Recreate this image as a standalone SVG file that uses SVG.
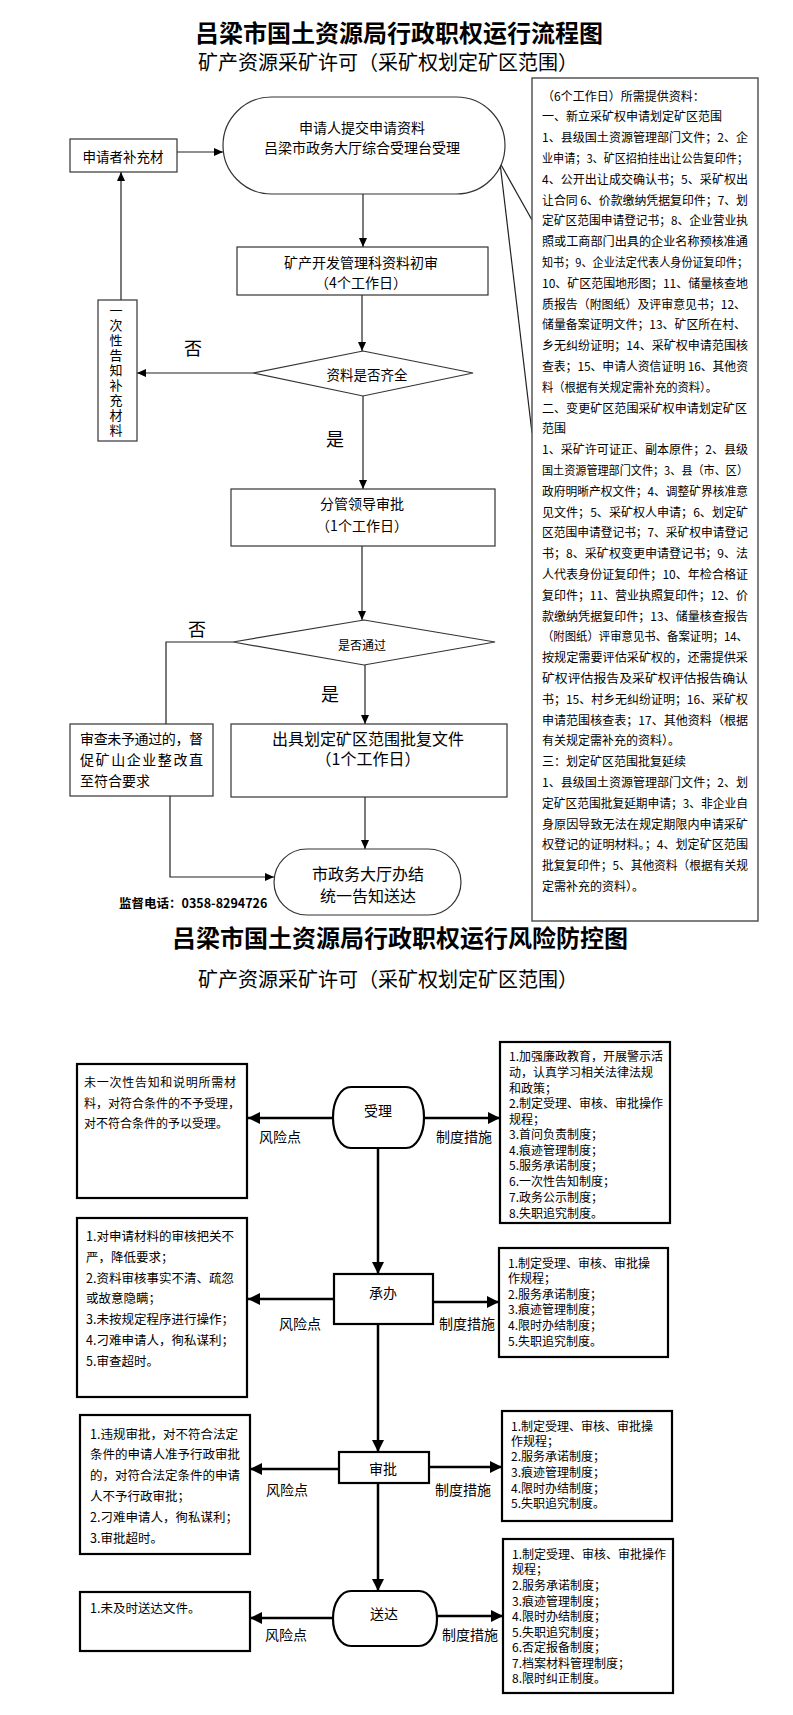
<svg xmlns="http://www.w3.org/2000/svg" width="793" height="1715" viewBox="0 0 793 1715">
<style>
text{font-family:"Noto Sans CJK SC","Noto Sans",sans-serif;fill:#000}
.t1{font-size:24px;font-weight:bold;text-anchor:middle}
.t2{font-size:20px;text-anchor:middle}
.n{fill:#fff;stroke:#333;stroke-width:1.2}
.c{font-size:14px;text-anchor:middle;dominant-baseline:central}
.v{font-size:13px;writing-mode:vertical-rl;letter-spacing:2px}
.big{font-size:18px;text-anchor:middle;dominant-baseline:central}
.l1{fill:none;stroke:#222;stroke-width:1.2}
.rb{font-size:12px;dominant-baseline:central}
.b2{fill:#fff;stroke:#000;stroke-width:2.2}
.l2{fill:none;stroke:#000;stroke-width:2.5}
.s2{font-size:12.5px;dominant-baseline:central}
.r2{font-size:12px;dominant-baseline:central}
.lab{font-size:14px;text-anchor:middle;dominant-baseline:central}
</style>
<defs>
<marker id="a1" markerUnits="userSpaceOnUse" markerWidth="9" markerHeight="8" refX="9" refY="4" orient="auto"><path d="M0,0L9,4L0,8z" fill="#000"/></marker>
<marker id="a2" markerUnits="userSpaceOnUse" markerWidth="12" markerHeight="12" refX="12" refY="6" orient="auto"><path d="M0,0L12,6L0,12z" fill="#000"/></marker>
</defs>
<rect width="793" height="1715" fill="#fff"/>

<text class="t1" x="399" y="42">吕梁市国土资源局行政职权运行流程图</text>
<text class="t2" x="388" y="70">矿产资源采矿许可（采矿权划定矿区范围）</text>

<g id="connectors1">
<line class="l1" x1="177" y1="152" x2="223" y2="152" marker-end="url(#a1)"/>
<line class="l1" x1="363" y1="194" x2="363" y2="247" marker-end="url(#a1)"/>
<line class="l1" x1="362" y1="295" x2="362" y2="351" marker-end="url(#a1)"/>
<line class="l1" x1="253" y1="373" x2="137" y2="373" marker-end="url(#a1)"/>
<line class="l1" x1="121" y1="300" x2="121" y2="172" marker-end="url(#a1)"/>
<line class="l1" x1="363" y1="396" x2="363" y2="489" marker-end="url(#a1)"/>
<line class="l1" x1="362" y1="546" x2="362" y2="620" marker-end="url(#a1)"/>
<polyline class="l1" points="233,642 166,642 166,724"/>
<line class="l1" x1="365" y1="665" x2="365" y2="724" marker-end="url(#a1)"/>
<line class="l1" x1="365" y1="797" x2="365" y2="849" marker-end="url(#a1)"/>
<polyline class="l1" points="170,796 170,877 274,877" marker-end="url(#a1)"/>
<line class="l1" x1="500" y1="163" x2="532" y2="220"/>
<line class="l1" x1="500" y1="163" x2="532" y2="433"/>
</g>

<g id="supplement"><rect class="n" x="70" y="139" width="107" height="33"/><text class="c" x="123" y="156" style="font-size:13.5px">申请者补充材</text></g>
<g id="submit"><rect class="n" x="223" y="97" width="282" height="97" rx="48.5"/><text class="c" x="362" y="127">申请人提交申请资料</text><text class="c" x="362" y="147">吕梁市政务大厅综合受理台受理</text></g>
<g id="review"><rect class="n" x="237" y="247" width="251" height="48"/><text class="c" x="361" y="262">矿产开发管理科资料初审</text><text class="c" x="361" y="282">（4个工作日）</text></g>
<g id="complete"><polygon class="n" points="363,351 473,373 363,396 253,373"/><text class="c" x="367" y="374" style="font-size:13.5px">资料是否齐全</text></g>
<text class="big" x="193" y="347">否</text>
<text class="big" x="335" y="438">是</text>
<g id="notify"><rect class="n" x="98" y="300" width="39" height="141"/>
<text class="v" x="116" y="304">一次性告知补充材料</text></g>
<g id="leader"><rect class="n" x="231" y="489" width="264" height="57"/><text class="c" x="362" y="503">分管领导审批</text><text class="c" x="362" y="525">（1个工作日）</text></g>
<g id="pass"><polygon class="n" points="364,620 495,642 364,665 233,642"/><text class="c" x="362" y="644" style="font-size:12px">是否通过</text></g>
<text class="big" x="197" y="628">否</text>
<text class="big" x="330" y="693">是</text>
<g id="reject"><rect class="n" x="70" y="724" width="143" height="72"/>
<text class="c" x="80" y="738" style="text-anchor:start" textLength="123" lengthAdjust="spacing">审查未予通过的，督</text>
<text class="c" x="80" y="759" style="text-anchor:start" textLength="123" lengthAdjust="spacing">促矿山企业整改直</text>
<text class="c" x="80" y="780" style="text-anchor:start">至符合要求</text></g>
<g id="issue"><rect class="n" x="231" y="724" width="276" height="73"/><text class="c" x="368" y="738" style="font-size:16px">出具划定矿区范围批复文件</text><text class="c" x="368" y="758" style="font-size:16px">（1个工作日）</text></g>
<g id="finish"><rect class="n" x="274" y="849" width="187" height="66" rx="33"/><text class="c" x="368" y="873" style="font-size:16px">市政务大厅办结</text><text class="c" x="368" y="895" style="font-size:16px">统一告知送达</text></g>
<text x="119" y="902" style="font-size:12.5px;font-weight:bold;dominant-baseline:central">监督电话：0358-8294726</text>

<g id="materials"><rect x="532" y="78" width="226" height="843" fill="#fff" stroke="#555" stroke-width="1.5"/>
<text class="rb" x="542" y="95.0">（6个工作日）所需提供资料：</text>
<text class="rb" x="542" y="115.8">一、新立采矿权申请划定矿区范围</text>
<text class="rb" x="542" y="136.6" textLength="206" lengthAdjust="spacingAndGlyphs">1、县级国土资源管理部门文件；2、企</text>
<text class="rb" x="542" y="157.4" textLength="206" lengthAdjust="spacingAndGlyphs">业申请；3、矿区招拍挂出让公告复印件；</text>
<text class="rb" x="542" y="178.2" textLength="206" lengthAdjust="spacingAndGlyphs">4、公开出让成交确认书；5、采矿权出</text>
<text class="rb" x="542" y="199.0" textLength="206" lengthAdjust="spacingAndGlyphs">让合同 6、价款缴纳凭据复印件；7、划</text>
<text class="rb" x="542" y="219.8" textLength="206" lengthAdjust="spacingAndGlyphs">定矿区范围申请登记书；8、企业营业执</text>
<text class="rb" x="542" y="240.6" textLength="206" lengthAdjust="spacingAndGlyphs">照或工商部门出具的企业名称预核准通</text>
<text class="rb" x="542" y="261.4" textLength="206" lengthAdjust="spacingAndGlyphs">知书；9、企业法定代表人身份证复印件；</text>
<text class="rb" x="542" y="282.2" textLength="206" lengthAdjust="spacingAndGlyphs">10、矿区范围地形图；11、储量核查地</text>
<text class="rb" x="542" y="303.0" textLength="204" lengthAdjust="spacingAndGlyphs">质报告（附图纸）及评审意见书；12、</text>
<text class="rb" x="542" y="323.8" textLength="204" lengthAdjust="spacingAndGlyphs">储量备案证明文件；13、矿区所在村、</text>
<text class="rb" x="542" y="344.6" textLength="206" lengthAdjust="spacingAndGlyphs">乡无纠纷证明；14、采矿权申请范围核</text>
<text class="rb" x="542" y="365.4" textLength="206" lengthAdjust="spacingAndGlyphs">查表；15、申请人资信证明 16、其他资</text>
<text class="rb" x="542" y="386.2" textLength="175" lengthAdjust="spacingAndGlyphs">料（根据有关规定需补充的资料）。</text>
<text class="rb" x="542" y="407.0" textLength="205" lengthAdjust="spacingAndGlyphs">二、变更矿区范围采矿权申请划定矿区</text>
<text class="rb" x="542" y="427.8">范围</text>
<text class="rb" x="542" y="448.6" textLength="206" lengthAdjust="spacingAndGlyphs">1、采矿许可证正、副本原件；2、县级</text>
<text class="rb" x="542" y="469.4" textLength="206" lengthAdjust="spacingAndGlyphs">国土资源管理部门文件；3、县（市、区）</text>
<text class="rb" x="542" y="490.2" textLength="206" lengthAdjust="spacingAndGlyphs">政府明晰产权文件；4、调整矿界核准意</text>
<text class="rb" x="542" y="511.0" textLength="206" lengthAdjust="spacingAndGlyphs">见文件；5、采矿权人申请；6、划定矿</text>
<text class="rb" x="542" y="531.8" textLength="206" lengthAdjust="spacingAndGlyphs">区范围申请登记书；7、采矿权申请登记</text>
<text class="rb" x="542" y="552.6" textLength="206" lengthAdjust="spacingAndGlyphs">书；8、采矿权变更申请登记书；9、法</text>
<text class="rb" x="542" y="573.4" textLength="206" lengthAdjust="spacingAndGlyphs">人代表身份证复印件；10、年检合格证</text>
<text class="rb" x="542" y="594.2" textLength="206" lengthAdjust="spacingAndGlyphs">复印件；11、营业执照复印件；12、价</text>
<text class="rb" x="542" y="615.0" textLength="206" lengthAdjust="spacingAndGlyphs">款缴纳凭据复印件；13、储量核查报告</text>
<text class="rb" x="542" y="635.8" textLength="206" lengthAdjust="spacingAndGlyphs">（附图纸）评审意见书、备案证明；14、</text>
<text class="rb" x="542" y="656.6" textLength="206" lengthAdjust="spacingAndGlyphs">按规定需要评估采矿权的，还需提供采</text>
<text class="rb" x="542" y="677.4" textLength="206" lengthAdjust="spacingAndGlyphs">矿权评估报告及采矿权评估报告确认</text>
<text class="rb" x="542" y="698.2" textLength="206" lengthAdjust="spacingAndGlyphs">书；15、村乡无纠纷证明；16、采矿权</text>
<text class="rb" x="542" y="719.0" textLength="206" lengthAdjust="spacingAndGlyphs">申请范围核查表；17、其他资料（根据</text>
<text class="rb" x="542" y="739.8">有关规定需补充的资料）。</text>
<text class="rb" x="542" y="760.6">三：划定矿区范围批复延续</text>
<text class="rb" x="542" y="781.4" textLength="206" lengthAdjust="spacingAndGlyphs">1、县级国土资源管理部门文件；2、划</text>
<text class="rb" x="542" y="802.2" textLength="206" lengthAdjust="spacingAndGlyphs">定矿区范围批复延期申请；3、非企业自</text>
<text class="rb" x="542" y="823.0" textLength="206" lengthAdjust="spacingAndGlyphs">身原因导致无法在规定期限内申请采矿</text>
<text class="rb" x="542" y="843.8" textLength="206" lengthAdjust="spacingAndGlyphs">权登记的证明材料。；4、划定矿区范围</text>
<text class="rb" x="542" y="864.6" textLength="206" lengthAdjust="spacingAndGlyphs">批复复印件；5、其他资料（根据有关规</text>
<text class="rb" x="542" y="885.4">定需补充的资料）。</text>
</g>

<text class="t1" x="400" y="947">吕梁市国土资源局行政职权运行风险防控图</text>
<text class="t2" x="388" y="987">矿产资源采矿许可（采矿权划定矿区范围）</text>

<g id="connectors2">
<line class="l2" x1="333" y1="1118" x2="248" y2="1118" marker-end="url(#a2)"/>
<line class="l2" x1="424" y1="1118" x2="500" y2="1118" marker-end="url(#a2)"/>
<line class="l2" x1="378" y1="1148" x2="378" y2="1274" marker-end="url(#a2)"/>
<line class="l2" x1="334" y1="1299" x2="248" y2="1299" marker-end="url(#a2)"/>
<line class="l2" x1="433" y1="1302" x2="499" y2="1302" marker-end="url(#a2)"/>
<line class="l2" x1="378" y1="1324" x2="378" y2="1452" marker-end="url(#a2)"/>
<line class="l2" x1="339" y1="1469" x2="250" y2="1469" marker-end="url(#a2)"/>
<line class="l2" x1="429" y1="1467" x2="502" y2="1467" marker-end="url(#a2)"/>
<line class="l2" x1="378" y1="1483" x2="378" y2="1591" marker-end="url(#a2)"/>
<line class="l2" x1="333" y1="1618" x2="250" y2="1618" marker-end="url(#a2)"/>
<line class="l2" x1="437" y1="1616" x2="503" y2="1616" marker-end="url(#a2)"/>
</g>

<g id="accept"><rect class="b2" x="333" y="1087" width="91" height="61" rx="18" ry="30"/><text class="c" x="378" y="1110">受理</text></g>
<text class="lab" x="280" y="1136">风险点</text>
<text class="lab" x="464" y="1136">制度措施</text>
<g id="risk1"><rect class="b2" x="77" y="1064" width="170" height="134"/>
<text class="s2" x="84" y="1081" style="font-size:12px" textLength="152" lengthAdjust="spacing">未一次性告知和说明所需材</text>
<text class="s2" x="84" y="1102" style="font-size:12px">料，对符合条件的不予受理，</text>
<text class="s2" x="84" y="1122" style="font-size:12px">对不符合条件的予以受理。</text></g>
<g id="measure1"><rect class="b2" x="500" y="1042" width="170" height="181"/>
<text class="r2" x="509" y="1055">1.加强廉政教育，开展警示活</text>
<text class="r2" x="509" y="1071">动，认真学习相关法律法规</text>
<text class="r2" x="509" y="1087">和政策；</text>
<text class="r2" x="509" y="1102">2.制定受理、审核、审批操作</text>
<text class="r2" x="509" y="1118">规程；</text>
<text class="r2" x="509" y="1133">3.首问负责制度；</text>
<text class="r2" x="509" y="1149">4.痕迹管理制度；</text>
<text class="r2" x="509" y="1164">5.服务承诺制度；</text>
<text class="r2" x="509" y="1180">6.一次性告知制度；</text>
<text class="r2" x="509" y="1196">7.政务公示制度；</text>
<text class="r2" x="509" y="1212">8.失职追究制度。</text></g>

<g id="handle"><rect class="b2" x="334" y="1274" width="99" height="50"/><text class="c" x="383" y="1292">承办</text></g>
<text class="lab" x="300" y="1323">风险点</text>
<text class="lab" x="467" y="1323">制度措施</text>
<g id="risk2"><rect class="b2" x="77" y="1218" width="170" height="179"/>
<text class="s2" x="86" y="1235">1.对申请材料的审核把关不</text>
<text class="s2" x="86" y="1256">严，降低要求；</text>
<text class="s2" x="86" y="1277">2.资料审核事实不清、疏忽</text>
<text class="s2" x="86" y="1297">或故意隐瞒；</text>
<text class="s2" x="86" y="1318">3.未按规定程序进行操作；</text>
<text class="s2" x="86" y="1339">4.刁难申请人，徇私谋利；</text>
<text class="s2" x="86" y="1360">5.审查超时。</text></g>
<g id="measure2"><rect class="b2" x="499" y="1248" width="169" height="109"/>
<text class="r2" x="508" y="1262">1.制定受理、审核、审批操</text>
<text class="r2" x="508" y="1277">作规程；</text>
<text class="r2" x="508" y="1293">2.服务承诺制度；</text>
<text class="r2" x="508" y="1308">3.痕迹管理制度；</text>
<text class="r2" x="508" y="1324">4.限时办结制度；</text>
<text class="r2" x="508" y="1340">5.失职追究制度。</text></g>

<g id="approve"><rect class="b2" x="339" y="1452" width="90" height="31"/><text class="c" x="383" y="1468">审批</text></g>
<text class="lab" x="287" y="1489">风险点</text>
<text class="lab" x="463" y="1489">制度措施</text>
<g id="risk3"><rect class="b2" x="80" y="1415" width="170" height="139"/>
<text class="s2" x="90" y="1433">1.违规审批，对不符合法定</text>
<text class="s2" x="90" y="1453">条件的申请人准予行政审批</text>
<text class="s2" x="90" y="1474">的，对符合法定条件的申请</text>
<text class="s2" x="90" y="1495">人不予行政审批；</text>
<text class="s2" x="90" y="1516">2.刁难申请人，徇私谋利；</text>
<text class="s2" x="90" y="1537">3.审批超时。</text></g>
<g id="measure3"><rect class="b2" x="502" y="1411" width="170" height="110"/>
<text class="r2" x="511" y="1425">1.制定受理、审核、审批操</text>
<text class="r2" x="511" y="1440">作规程；</text>
<text class="r2" x="511" y="1455">2.服务承诺制度；</text>
<text class="r2" x="511" y="1471">3.痕迹管理制度；</text>
<text class="r2" x="511" y="1487">4.限时办结制度；</text>
<text class="r2" x="511" y="1502">5.失职追究制度。</text></g>

<g id="deliver"><rect class="b2" x="333" y="1591" width="104" height="55" rx="18" ry="27"/><text class="c" x="384" y="1613">送达</text></g>
<text class="lab" x="286" y="1634">风险点</text>
<text class="lab" x="470" y="1634">制度措施</text>
<g id="risk4"><rect class="b2" x="80" y="1592" width="170" height="59"/>
<text class="s2" x="90" y="1607">1.未及时送达文件。</text></g>
<g id="measure4"><rect class="b2" x="503" y="1539" width="170" height="154"/>
<text class="r2" x="512" y="1553">1.制定受理、审核、审批操作</text>
<text class="r2" x="512" y="1568">规程；</text>
<text class="r2" x="512" y="1584">2.服务承诺制度；</text>
<text class="r2" x="512" y="1600">3.痕迹管理制度；</text>
<text class="r2" x="512" y="1615">4.限时办结制度；</text>
<text class="r2" x="512" y="1631">5.失职追究制度；</text>
<text class="r2" x="512" y="1646">6.否定报备制度；</text>
<text class="r2" x="512" y="1662">7.档案材料管理制度；</text>
<text class="r2" x="512" y="1677">8.限时纠正制度。</text></g>
</svg>
